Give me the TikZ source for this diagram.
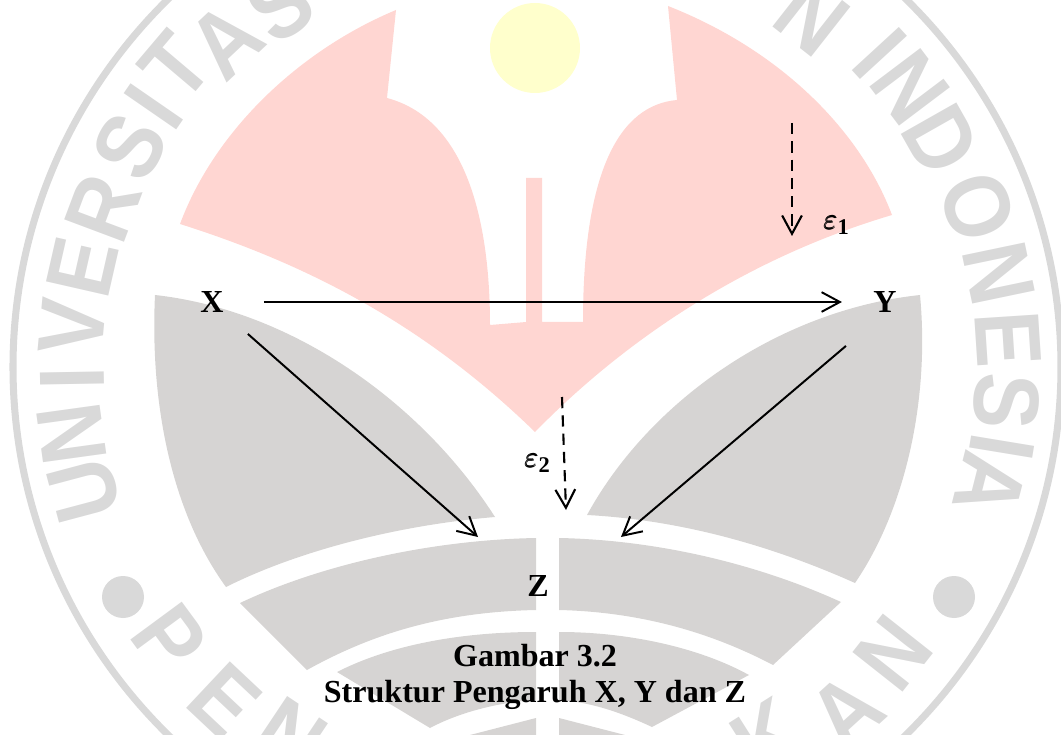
\documentclass[tikz,border=0pt]{standalone}
\usepackage{amsmath}
\usepackage{fontspec}
\setmainfont{Liberation Serif}
\newfontfamily\ringfont{Liberation Sans}
\usetikzlibrary{arrows.meta, positioning}
\definecolor{sealpink}{HTML}{FFD6D2}
\definecolor{sealyellow}{HTML}{FFFFCC}
\definecolor{sealgray}{HTML}{D6D4D3}
\definecolor{ringgray}{HTML}{D9D9D9}

\begin{document}
\begin{tikzpicture}[
    x=0.025cm, y=-0.025cm,
    pink/.style={fill=sealpink},
    band/.style={fill=sealgray},
    ringletter/.style={font=\ringfont\bfseries\fontsize{66}{66}\selectfont, text=ringgray, inner sep=0pt, xscale=0.9},
    lbl/.style={font=\bfseries\fontsize{22.8}{25.6}\selectfont, inner sep=0pt, align=center},
    errlbl/.style={font=\fontsize{22.8}{26}\selectfont, inner sep=0pt},
    arr/.style={-{Straight Barb[length=13pt, width=14pt]}, line width=1.4pt},
    dasharr/.style={-{Straight Barb[length=13pt, width=14pt]}, line width=1.5pt, dash pattern=on 8pt off 5pt},
]
\clip (0,0) rectangle (1061,735);

% --- Seal: ring and dots ---
\draw[ringgray, line width=5pt] (537,367) ellipse [x radius=524, y radius=518];
\fill[ringgray] (123,597) circle (21);
\fill[ringgray] (954,597) circle (21);

% --- Seal: letters, tops outward ---
\foreach \lx/\ly/\ch [count=\i] in {84/490/U, 72/434/N, 72/378/I, 72/327/V, 83/267/E, 103/208/R, 130/147/S, 154/107/I, 176/66/T, 226/41/A, 280/5/S, 812/17/N, 880/53/I, 910/87/N, 941/140/D, 978/207/O, 999/273/N, 1008/339/E, 1007/401/S, 1002/447/I, 990/485/A} {
    \pgfmathsetmacro{\rot}{atan2(535-\lx,370-\ly)}
    \node[rotate=\rot, ringletter] (top\i) at (\lx,\ly) {\ch};
}
% --- Seal: letters, tops inward ---
\foreach \lx/\ly/\ch [count=\i] in {170/639/P, 225/700/E, 290/737/N, 767/737/K, 846/712/A, 893/653/N} {
    \pgfmathsetmacro{\rot}{atan2(\lx-535,\ly-370)}
    \node[rotate=\rot, ringletter] (low\i) at (\lx,\ly) {\ch};
}

% --- Seal: flame and sun ---
\fill[sealyellow] (535,48) circle (45);
\fill[pink] (396,10) .. controls (300,50) and (215,130) .. (180,224)
    .. controls (300,262) and (420,320) .. (535,432)
    .. controls (620,345) and (740,260) .. (892,215)
    .. controls (860,130) and (780,50) .. (668,6)
    -- (677,100) .. controls (620,105) and (583,170) .. (583,322)
    -- (542,322) -- (542,178) -- (526,178) -- (526,322) -- (490,325)
    .. controls (490,230) and (470,120) .. (387,98) -- cycle;

% --- Seal: gray bands ---
\fill[band] (155,295) .. controls (290,310) and (420,400) .. (495,517)
    .. controls (400,525) and (300,550) .. (226,587)
    .. controls (170,510) and (150,400) .. (155,295);
\fill[band] (920,295) .. controls (780,310) and (650,400) .. (587,515)
    .. controls (680,520) and (770,545) .. (855,583)
    .. controls (905,510) and (930,400) .. (920,295);
\fill[band] (240,603) .. controls (320,565) and (430,540) .. (536,538) -- (536,610)
    .. controls (440,612) and (370,635) .. (307,670) -- cycle;
\fill[band] (559,538) .. controls (660,540) and (760,565) .. (841,602) -- (773,665)
    .. controls (710,632) and (640,612) .. (559,610) -- cycle;
\fill[band] (337,672) .. controls (390,645) and (460,632) .. (536,632) -- (536,700)
    .. controls (500,702) and (460,712) .. (430,728) -- cycle;
\fill[band] (559,632) .. controls (630,632) and (700,648) .. (749,675) -- (652,727)
    .. controls (620,712) and (590,702) .. (559,700) -- cycle;
\fill[band] (536,718) -- (470,735) -- (536,735) -- cycle;
\fill[band] (559,718) -- (625,735) -- (559,735) -- cycle;

% --- Diagram ---
\node[lbl] (x) at (212,302) {X};
\node[lbl] (y) at (885,302) {Y};
\node[lbl] (z) at (538,586) {Z};
\coordinate (zleft) at (478,537);
\coordinate (zright) at (621,537);
\draw[arr, shorten <=1cm, shorten >=0.78cm] (x) -- (y);
\draw[arr, shorten <=0.8cm] (x.south east) -- (zleft);
\draw[arr, shorten <=1.28cm] (y.south) -- (zright);

% --- Error terms ---
\coordinate (e1start) at (792,123);
\coordinate (e1end) at (792,236);
\draw[dasharr] (e1start) -- (e1end);
\node[errlbl] (e1) at (837,225) {$\pmb{\varepsilon}_{\mathbf{1}}$};
\coordinate (e2start) at (562,397);
\coordinate (e2end) at (566,510);
\draw[dasharr] (e2start) -- (e2end);
\node[errlbl] (e2) at (538,463) {$\pmb{\varepsilon}_{\mathbf{2}}$};

% --- Caption ---
\node[lbl] (caption) at (535,677) {Gambar 3.2\\Struktur Pengaruh X, Y dan Z};

\end{tikzpicture}
\end{document}
